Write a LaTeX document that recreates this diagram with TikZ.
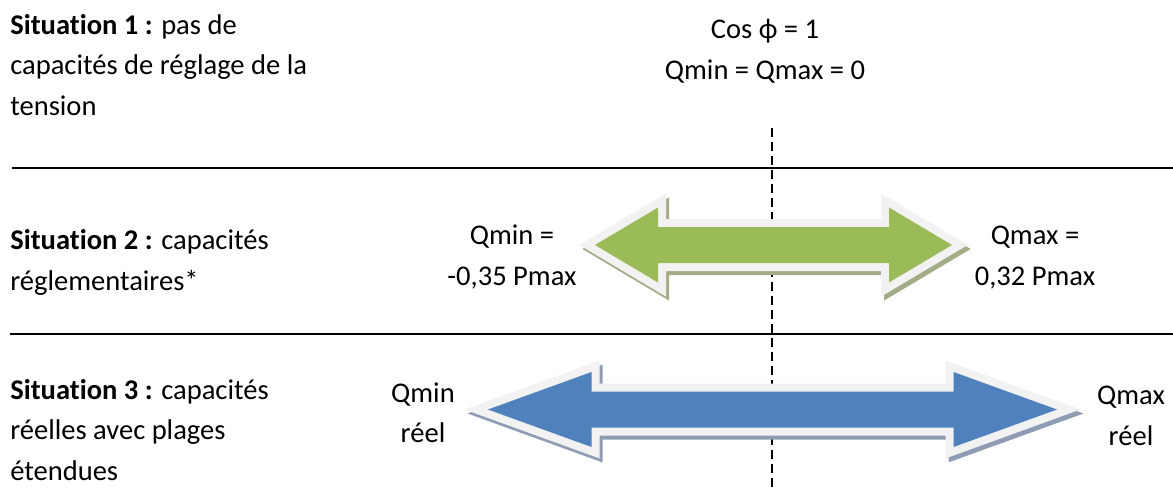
\documentclass[tikz,border=0pt]{standalone}
\usepackage{fontspec}
\setmainfont[Ligatures=NoCommon]{Carlito}
\usepackage{xcolor}
\usetikzlibrary{positioning, calc}

\definecolor{greenfill}{HTML}{9BBB59}
\definecolor{bluefill}{HTML}{4F81BD}
\definecolor{rimgray}{HTML}{F2F2F2}
\definecolor{greenshade}{HTML}{A2AD88}
\definecolor{blueshade}{HTML}{8E9DB4}

\begin{document}
\begin{tikzpicture}[
    x=0.025cm, y=-0.025cm,
    font=\fontsize{20.3}{28.45}\selectfont,
    situation/.style={
        align=left,
        inner sep=0pt,
        anchor=base west
    },
    bound/.style={
        align=center,
        inner sep=0pt,
        anchor=base
    },
    separator/.style={
        line width=1.2pt
    },
    axis/.style={
        line width=1.3pt,
        dash pattern=on 0.225cm off 0.125cm
    },
    rim/.style={
        draw=rimgray,
        line width=0.4cm,
        line join=miter,
        miter limit=10
    },
    % double arrow outline: left tip x / centre y / head length / right tip x
    dblarrow/.style n args={4}{
        insert path={
            (#1,#2) -- ++(#3,-37.5) -- ++(0,19.5) -- ({#4-#3},{#2-18})
            -- ++(0,-19.5) -- (#4,#2) -- ({#4-#3},{#2+37.5}) -- ++(0,-19.5)
            -- ({#1+#3},{#2+18}) -- ++(0,19.5) -- cycle
        }
    }
]

\useasboundingbox (0,0) rectangle (1173,488);

% Left column: the three situations (anchored on their last line)
\node[situation] (sit1) at (10,115) {\textbf{Situation 1 :} pas de\\capacités de réglage de la\\tension};
\node[situation] (sit2) at (10,290) {\textbf{Situation 2 :} capacités\\réglementaires*};
\node[situation] (sit3) at (10,480) {\textbf{Situation 3 :} capacités\\réelles avec plages\\étendues};

% Separators between the situations
\coordinate (sep1_w) at (12,168);
\coordinate (sep1_e) at (1173,168);
\coordinate (sep2_w) at (10,334);
\coordinate (sep2_e) at (1173,334);
\draw[separator] (sep1_w) -- (sep1_e);
\draw[separator] (sep2_w) -- (sep2_e);

% Unity power factor axis
\node[bound] (unity) at (765,79) {Cos ϕ = 1\\Qmin = Qmax = 0};
\coordinate (axis_top) at (772,128);
\coordinate (axis_bot) at (772,488);
\draw[axis] (axis_top) -- (axis_bot);

% Reactive power ranges (shadow, rim, body)
\foreach \xl/\yc/\hl/\xr/\body/\shade in {595/245/63/952/greenfill/greenshade, 488/409.5/103.5/1057/bluefill/blueshade} {
    \path[rim, draw=\shade, shift={(3,4)}, dblarrow={\xl}{\yc}{\hl}{\xr}];
    \path[rim, fill=rimgray, dblarrow={\xl}{\yc}{\hl}{\xr}];
    \path[fill=\body, dblarrow={\xl}{\yc}{\hl}{\xr}];
}

% Range bounds
\node[bound] (qmin_reg) at (512,285) {Qmin =\\-0,35 Pmax};
\node[bound] (qmax_reg) at (1035,285) {Qmax =\\0,32 Pmax};
\node[bound] (qmin_real) at (423,442) {Qmin\\réel};
\node[bound] (qmax_real) at (1131,445) {Qmax\\réel};

\end{tikzpicture}
\end{document}
